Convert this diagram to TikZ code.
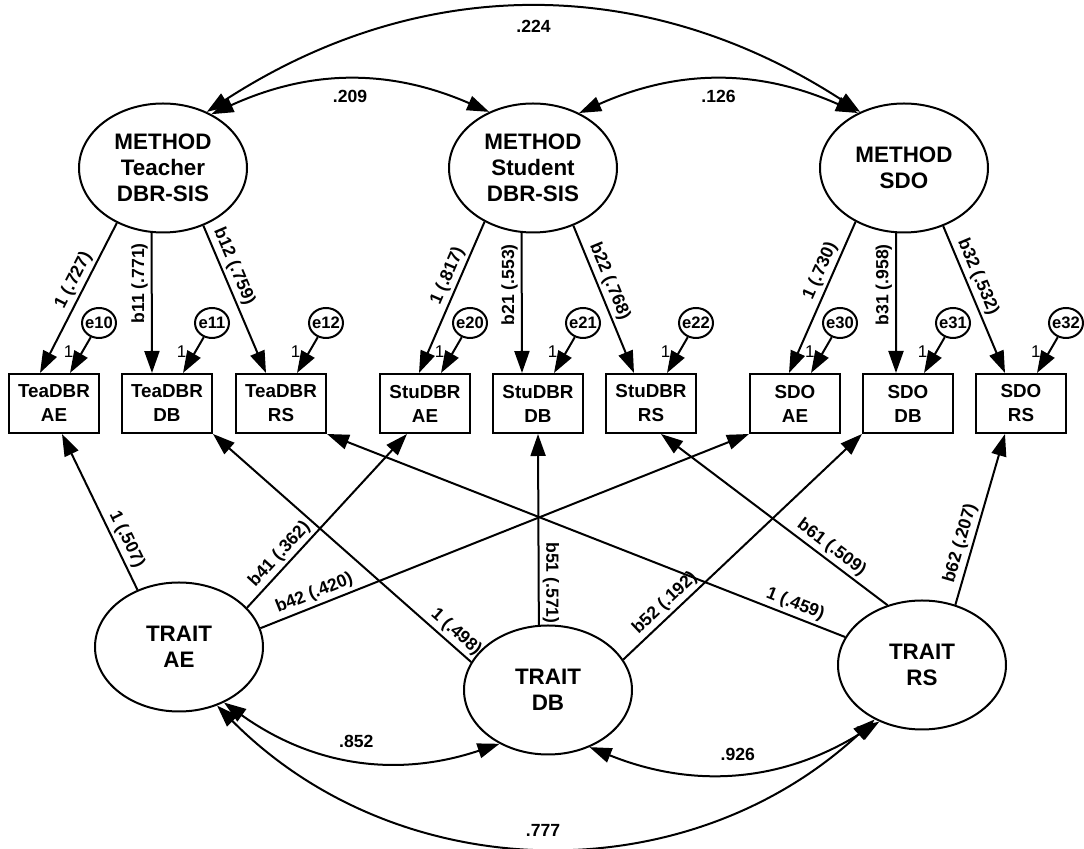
\documentclass[tikz,border=0pt]{standalone}
\usepackage{fontspec}
\setmainfont{Liberation Sans}
\usetikzlibrary{arrows.meta,shapes.geometric}
\tikzset{
  latent/.style={draw, ellipse, line width=1pt, minimum width=84pt, minimum height=64.5pt, inner sep=0pt, align=center, font=\fontsize{11.2}{13}\selectfont\bfseries},
  manifest/.style={draw, rectangle, line width=1pt, minimum width=45pt, minimum height=29.5pt, inner sep=0pt, align=center, font=\fontsize{9.4}{12}\selectfont\bfseries},
  errterm/.style={draw, ellipse, line width=1pt, minimum width=17pt, minimum height=15pt, inner ysep=0pt, inner xsep=-2.5pt, font=\fontsize{8.3}{9}\selectfont\bfseries},
  load/.style={-{Triangle[length=11pt,width=7.5pt]}, line width=1pt},
  covar/.style={{Triangle[length=11pt,width=7.5pt]}-{Triangle[length=11pt,width=7.5pt]}, line width=1pt},
  coef/.style={font=\fontsize{8.8}{10}\selectfont\bfseries, inner sep=1.5pt},
  one/.style={font=\fontsize{8.5}{10}\selectfont, inner sep=1pt},
}
\begin{document}
\begin{tikzpicture}[x=0.5pt, y=-0.5pt]
  \useasboundingbox (0,0) rectangle (1084,849);

  % Method factors
  \node[latent] (MT) at (163,168) {METHOD\\Teacher\\DBR-SIS};
  \node[latent] (MS) at (533,168) {METHOD\\Student\\DBR-SIS};
  \node[latent] (MD) at (904,168) {METHOD\\SDO};

  % Indicators
  \node[manifest] (TeaAE) at (54,403.5) {TeaDBR\\AE};
  \node[manifest] (TeaDB) at (167,403.5) {TeaDBR\\DB};
  \node[manifest] (TeaRS) at (281,403.5) {TeaDBR\\RS};
  \node[manifest] (StuAE) at (425,403.5) {StuDBR\\AE};
  \node[manifest] (StuDB) at (538,403.5) {StuDBR\\DB};
  \node[manifest] (StuRS) at (651,403.5) {StuDBR\\RS};
  \node[manifest] (SdoAE) at (795,403.5) {SDO\\AE};
  \node[manifest] (SdoDB) at (908,403.5) {SDO\\DB};
  \node[manifest] (SdoRS) at (1021,403.5) {SDO\\RS};

  % Error terms
  \node[errterm] (e10) at (99,323) {e10};
  \node[errterm] (e11) at (212,323) {e11};
  \node[errterm] (e12) at (326,323) {e12};
  \node[errterm] (e20) at (470,323) {e20};
  \node[errterm] (e21) at (583,323) {e21};
  \node[errterm] (e22) at (696,323) {e22};
  \node[errterm] (e30) at (840,323) {e30};
  \node[errterm] (e31) at (953,323) {e31};
  \node[errterm] (e32) at (1066,323) {e32};

  % Trait factors
  \node[latent] (TAE) at (179,647) {TRAIT\\AE};
  \node[latent] (TDB) at (548,690) {TRAIT\\DB};
  \node[latent] (TRS) at (922,665) {TRAIT\\RS};

  % Method loadings
  \draw[load] (MT.230) -- node[coef, sloped, above, pos=0.42] {1 (.727)} ([xshift=-7pt]TeaAE.north);
  \draw[load] (MT.260) -- node[coef, rotate=90, anchor=south, pos=0.36] {b11 (.771)} ([xshift=-7.5pt]TeaDB.north);
  \draw[load] (MT.305) -- node[coef, sloped, above, pos=0.31] {b12 (.759)} ([xshift=-7.5pt]TeaRS.north);
  \draw[load] (MS.228) -- node[coef, sloped, above, pos=0.39] {1 (.817)} ([xshift=-3pt]StuAE.north);
  \draw[load] (MS.260) -- node[coef, rotate=90, anchor=south, pos=0.37] {b21 (.553)} ([xshift=-8pt]StuDB.north);
  \draw[load] (MS.305) -- node[coef, sloped, above, pos=0.41] {b22 (.768)} ([xshift=-8.5pt]StuRS.north);
  \draw[load] (MD.228) -- node[coef, sloped, above, pos=0.36] {1 (.730)} ([xshift=-3pt]SdoAE.north);
  \draw[load] (MD.263) -- node[coef, rotate=90, anchor=south, pos=0.37] {b31 (.958)} ([xshift=-6pt]SdoDB.north);
  \draw[load] (MD.304) -- node[coef, sloped, above, pos=0.38] {b32 (.532)} ([xshift=-8pt]SdoRS.north);

  % Error paths
  \draw[load] (e10) -- node[one, pos=0.4, left=3pt] {1} ([xshift=8pt]TeaAE.north);
  \draw[load] (e11) -- node[one, pos=0.4, left=3pt] {1} ([xshift=8pt]TeaDB.north);
  \draw[load] (e12) -- node[one, pos=0.4, left=3pt] {1} ([xshift=8pt]TeaRS.north);
  \draw[load] (e20) -- node[one, pos=0.4, left=3pt] {1} ([xshift=8pt]StuAE.north);
  \draw[load] (e21) -- node[one, pos=0.4, left=3pt] {1} ([xshift=8pt]StuDB.north);
  \draw[load] (e22) -- node[one, pos=0.4, left=3pt] {1} ([xshift=8pt]StuRS.north);
  \draw[load] (e30) -- node[one, pos=0.4, left=3pt] {1} ([xshift=8pt]SdoAE.north);
  \draw[load] (e31) -- node[one, pos=0.4, left=3pt] {1} ([xshift=8pt]SdoDB.north);
  \draw[load] (e32) -- node[one, pos=0.4, left=3pt] {1} ([xshift=8pt]SdoRS.north);

  % Trait loadings
  \draw[load] (TAE.126) -- node[coef, sloped, above, pos=0.29] {1 (.507)} ([xshift=4pt]TeaAE.south);
  \draw[load] (TAE.30) -- node[coef, sloped, above, pos=0.26] {b41 (.362)} ([xshift=-9pt]StuAE.south);
  \draw[load] (TAE.13) -- node[coef, sloped, above, pos=0.12] {b42 (.420)} (SdoAE.south west);
  \draw[load] (TDB.160) -- node[coef, sloped, above, pos=0.09] {1 (.498)} (TeaDB.south east);
  \draw[load] (TDB.98) -- node[coef, rotate=-90, anchor=south, pos=0.22] {b51 (.571)} (StuDB.south);
  \draw[load] (TDB.22) -- node[coef, sloped, above, pos=0.21] {b52 (.192)} (SdoDB.south west);
  \draw[load] (TRS.160) -- node[coef, sloped, above, pos=0.105] {1 (.459)} (TeaRS.south east);
  \draw[load] (TRS.120) -- node[coef, sloped, above, pos=0.28] {b61 (.509)} ([xshift=5pt]StuRS.south);
  \draw[load] (TRS.61) -- node[coef, sloped, above, pos=0.34] {b62 (.207)} ([xshift=-8pt]SdoRS.south);

  % Covariances
  \draw[covar] (MT.52) to[bend left=33] node[coef, below=4pt] {.224} (MD.128);
  \draw[covar] (MT.48) to[bend left=24] node[coef, below=3pt] {.209} (MS.128);
  \draw[covar] (MS.50) to[bend left=24] node[coef, below=3pt] {.126} (MD.130);
  \draw[covar] (TAE.309) to[bend right=27] node[coef, above=4pt] {.852} (TDB.228);
  \draw[covar] (TDB.306) to[bend right=27] node[coef, above=4pt] {.926} (TRS.233);
  \draw[covar] (TAE.303) to[bend right=44] node[coef, above=3pt] {.777} (TRS.229);
\end{tikzpicture}
\end{document}
